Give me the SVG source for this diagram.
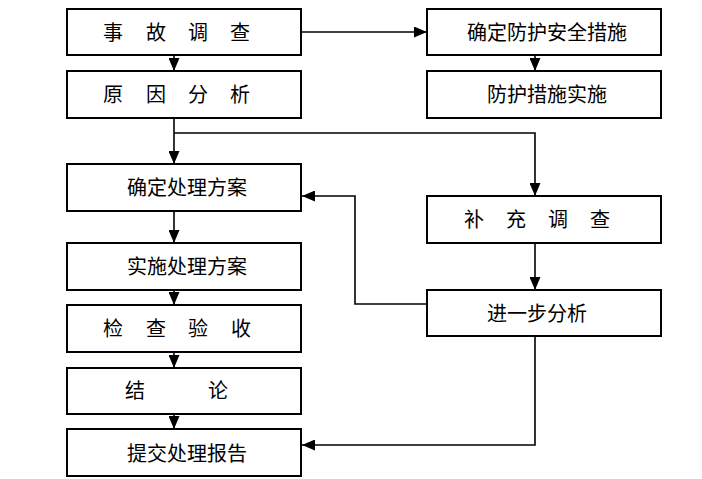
<svg xmlns="http://www.w3.org/2000/svg" width="702" height="479" viewBox="0 0 702 479">
<style>
.box{fill:#fff;stroke:#000;stroke-width:2}
.t{font-family:"Noto Sans CJK SC","Noto Sans CJK JP",sans-serif;font-size:20px;fill:#000;text-anchor:middle}
.c{fill:none;stroke:#000;stroke-width:1.6}
</style>
<defs>
<marker id="ah" markerUnits="userSpaceOnUse" markerWidth="13" markerHeight="11" refX="13" refY="5.5" orient="auto"><path d="M0,0 L13,5.5 L0,11 z" fill="#000"/></marker>
</defs>
<rect width="702" height="479" fill="#fff"/>
<g id="n1"><rect class="box" x="67" y="9" width="234" height="46"/><text class="t" y="40"><tspan x="113">事</tspan><tspan x="156">故</tspan><tspan x="198">调</tspan><tspan x="240">查</tspan></text></g>
<g id="n2"><rect class="box" x="67" y="71" width="234" height="47"/><text class="t" y="102"><tspan x="113">原</tspan><tspan x="156">因</tspan><tspan x="198">分</tspan><tspan x="240">析</tspan></text></g>
<g id="n3"><rect class="box" x="67" y="164" width="234" height="47"/><text class="t" x="187" y="195">确定处理方案</text></g>
<g id="n4"><rect class="box" x="67" y="243" width="234" height="47"/><text class="t" x="187" y="274">实施处理方案</text></g>
<g id="n5"><rect class="box" x="67" y="305" width="234" height="47"/><text class="t" y="336"><tspan x="113">检</tspan><tspan x="156">查</tspan><tspan x="198">验</tspan><tspan x="241">收</tspan></text></g>
<g id="n6"><rect class="box" x="67" y="368" width="234" height="46"/><text class="t" y="398"><tspan x="135">结</tspan><tspan x="218">论</tspan></text></g>
<g id="n7"><rect class="box" x="67" y="429" width="234" height="47"/><text class="t" x="187" y="461">提交处理报告</text></g>
<g id="r1"><rect class="box" x="427" y="9" width="234" height="46"/><text class="t" x="547" y="40">确定防护安全措施</text></g>
<g id="r2"><rect class="box" x="427" y="71" width="234" height="47"/><text class="t" x="547" y="102">防护措施实施</text></g>
<g id="r3"><rect class="box" x="427" y="196" width="234" height="47"/><text class="t" y="227"><tspan x="474">补</tspan><tspan x="516">充</tspan><tspan x="558">调</tspan><tspan x="600">查</tspan></text></g>
<g id="r4"><rect class="box" x="427" y="290" width="234" height="46"/><text class="t" x="537" y="321">进一步分析</text></g>
<g id="connectors">
<path class="c" d="M301,32 H427" marker-end="url(#ah)"/>
<path class="c" d="M174,55 V71" marker-end="url(#ah)"/>
<path class="c" d="M535,55 V71" marker-end="url(#ah)"/>
<path class="c" d="M174,118 V164" marker-end="url(#ah)"/>
<path class="c" d="M174,133 H535 V196" marker-end="url(#ah)"/>
<path class="c" d="M174,211 V243" marker-end="url(#ah)"/>
<path class="c" d="M174,290 V305" marker-end="url(#ah)"/>
<path class="c" d="M174,352 V368" marker-end="url(#ah)"/>
<path class="c" d="M174,414 V429" marker-end="url(#ah)"/>
<path class="c" d="M535,243 V290" marker-end="url(#ah)"/>
<path class="c" d="M427,304 H355 V196 H302" marker-end="url(#ah)"/>
<path class="c" d="M535,336 V445 H302" marker-end="url(#ah)"/>
</g>
</svg>
